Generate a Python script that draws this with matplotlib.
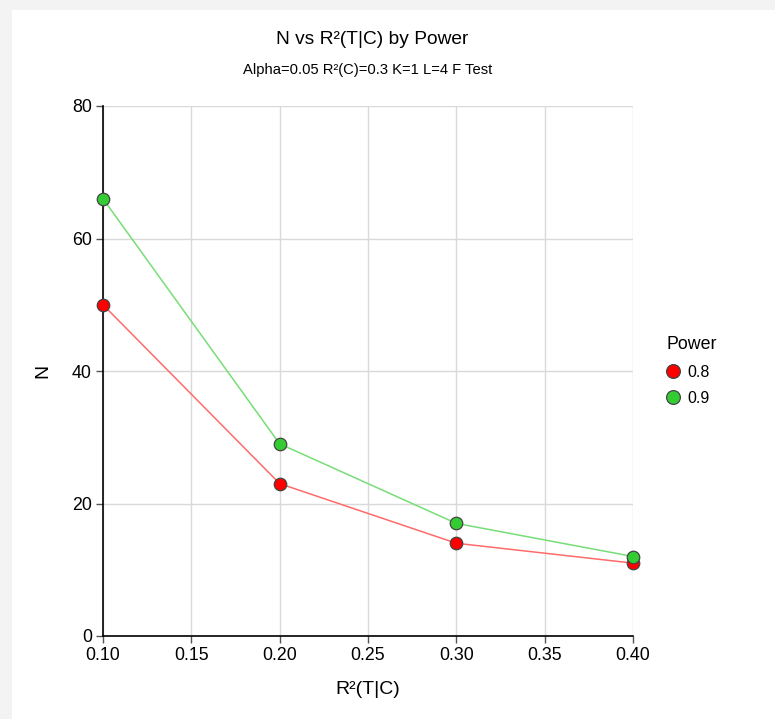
import matplotlib.pyplot as plt
import matplotlib.patches as mpatches

plt.rcParams['font.family'] = ['Liberation Sans', 'DejaVu Sans']

r2 = [0.10, 0.20, 0.30, 0.40]
power_levels = ['0.8', '0.9']
n_08 = [50, 23, 14, 11]
n_09 = [66, 29, 17, 12]

fig = plt.figure(figsize=(7.75, 7.19), dpi=100)
fig.patch.set_facecolor('#f3f3f3')
# white panel
fig.add_artist(mpatches.Rectangle((12 / 775, 0), 1, 1 - 10 / 719,
                                  transform=fig.transFigure, facecolor='white',
                                  edgecolor='none', zorder=0))

ax = fig.add_axes([103 / 775, 1 - 636 / 719, 530 / 775, 530 / 719])
ax.set_facecolor('none')

series = [(n_08, '#ff0000', '#ff6b6b'), (n_09, '#33cc33', '#77dd77')]
for (vals, mcol, lcol), lab in zip(series, power_levels):
    ax.plot(r2, vals, color=lcol, lw=1.1, zorder=3)
    ax.plot(r2, vals, ls='none', marker='o', ms=9, mfc=mcol, mec='#444444',
            mew=0.9, label=lab, zorder=4, clip_on=False)

ax.set_xlim(0.1, 0.4)
ax.set_ylim(0, 80)
ax.set_xticks([0.10, 0.15, 0.20, 0.25, 0.30, 0.35, 0.40])
ax.set_xticklabels(['0.10', '0.15', '0.20', '0.25', '0.30', '0.35', '0.40'])
ax.set_yticks([0, 20, 40, 60, 80])
ax.grid(True, color='#d9d9d9', lw=1)
ax.set_axisbelow(True)
for s in ['top', 'right']:
    ax.spines[s].set_visible(False)
for s in ['left', 'bottom']:
    ax.spines[s].set_color('black')
    ax.spines[s].set_linewidth(1.2)
ax.tick_params(length=5, width=1, labelsize=12.8, colors='#555555', labelcolor='black', pad=3)

ax.set_xlabel('R²(T|C)', fontsize=14, labelpad=12)
ax.set_ylabel('N', fontsize=14, labelpad=15)

fig.text(372 / 775, 1 - 40 / 719, 'N vs R²(T|C) by Power', ha='center', va='center',
         fontsize=13.8)
fig.text(368 / 775, 1 - 70 / 719, 'Alpha=0.05 R²(C)=0.3 K=1 L=4 F Test',
         ha='center', va='center', fontsize=10.6)

leg = ax.legend(title='Power', loc='upper left', bbox_to_anchor=(652 / 775, 1 - 322 / 719),
                bbox_transform=fig.transFigure, frameon=False, fontsize=11.5,
                title_fontsize=12.8, handletextpad=0.5, labelspacing=0.7,
                handlelength=0.8, markerscale=1.1)
leg._legend_box.align = 'left'

fig.savefig('out.png', dpi=100)
